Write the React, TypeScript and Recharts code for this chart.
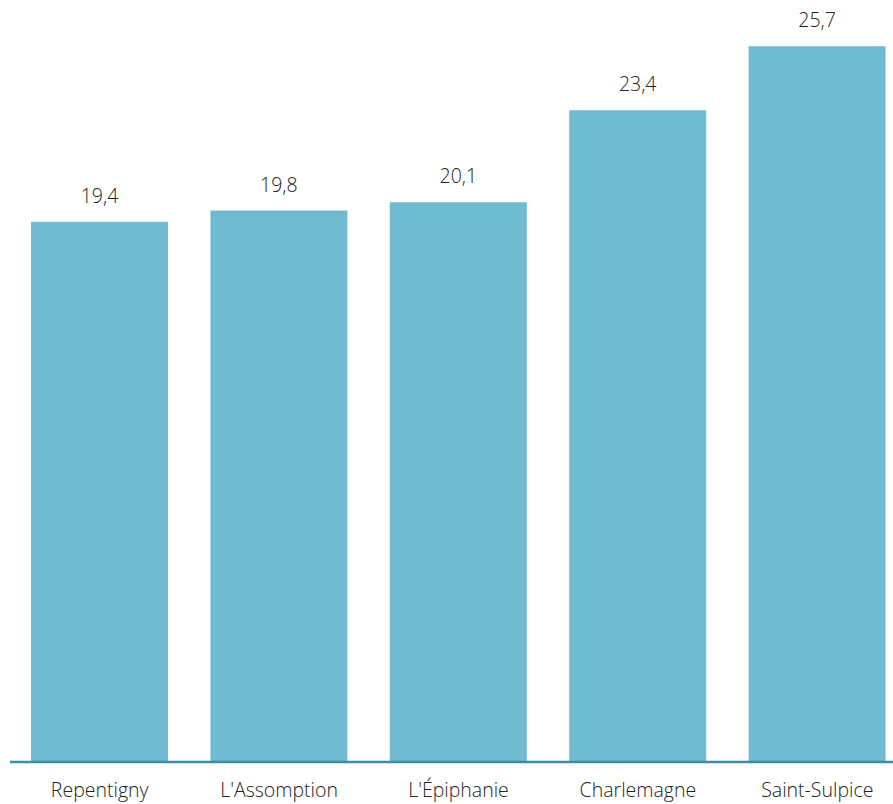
import { BarChart, Bar, XAxis, YAxis, LabelList } from "recharts"

const categories = ["Repentigny", "L'Assomption", "L'Épiphanie", "Charlemagne", "Saint-Sulpice"]
const values = [19.4, 19.8, 20.1, 23.4, 25.7]

const data = categories.map((name, i) => ({ name, value: values[i] }))

const FONT = "'Open Sans', sans-serif"

const CategoryTick = (props: any) => {
  const { x, y, payload } = props
  return (
    <text x={x} y={y} dy={35} textAnchor="middle" fontSize={19.5} fontWeight={300} fontFamily={FONT} fill="#222">
      {payload.value}
    </text>
  )
}

const ValueLabel = (props: any) => {
  const { x, y, width, value } = props
  return (
    <text x={x + width / 2} y={y - 19} textAnchor="middle" fontSize={19.5} fontWeight={300} fontFamily={FONT} fill="#222">
      {String(value).replace(".", ",")}
    </text>
  )
}

export default function App() {
  return (
    <div style={{ width: 893, height: 804, overflow: "hidden", background: "#fff" }}>
      <style>{`body{margin:0;overflow:hidden}`}</style>
      <BarChart width={907} height={804} data={data} margin={{ top: 10, right: 0, left: 10, bottom: 12 }}>
        <YAxis hide domain={[0, 27]} />
        <XAxis
          dataKey="name"
          height={30}
          tickLine={false}
          tickSize={0}
          tickMargin={0}
          interval={0}
          axisLine={{ stroke: "#3b8ea5", strokeWidth: 2.5 }}
          tick={<CategoryTick />}
        />
        <Bar dataKey="value" fill="#71bbd0" barSize={137} isAnimationActive={false}>
          <LabelList dataKey="value" content={<ValueLabel />} />
        </Bar>
      </BarChart>
    </div>
  )
}
